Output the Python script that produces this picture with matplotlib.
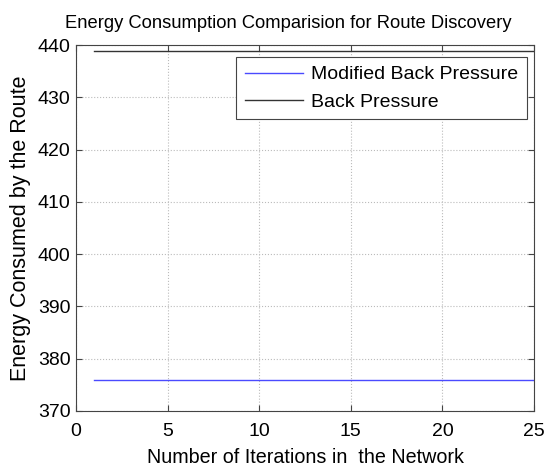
import numpy as np
import matplotlib
matplotlib.use("Agg")
import matplotlib.pyplot as plt

plt.rcParams['font.family'] = ['Liberation Sans', 'DejaVu Sans']

# Dane
iterations = list(range(1, 26))
modified_bp = [375.9] * 25
back_pressure = [438.9] * 25

fig = plt.figure(figsize=(5.46, 4.67), dpi=100)
# osie: lewo 76px, prawo 534px, góra 45px, dół 411px
ax = fig.add_axes([76 / 546, (467 - 411) / 467, 458 / 546, 366 / 467])

ax.plot(iterations, modified_bp, color='#4a4aff', linewidth=1.0, label='Modified Back Pressure')
ax.plot(iterations, back_pressure, color='#333333', linewidth=1.0, label='Back Pressure')

ax.set_xlim(0, 25)
ax.set_ylim(370, 440)
ax.set_xticks([0, 5, 10, 15, 20, 25])
ax.set_yticks(np.arange(370, 441, 10))
ax.grid(True, linestyle=':', color='#bbbbbb', linewidth=0.8)
ax.tick_params(direction='in', top=True, right=True, labelsize=14, length=4, color='#444444')
ax.tick_params(axis='x', pad=9)
ax.tick_params(axis='y', pad=4)
for s in ax.spines.values():
    s.set_color('#444444')

ax.set_title('Energy Consumption Comparision for Route Discovery', fontsize=13.2, pad=12, x=0.463)
ax.set_xlabel('Number of Iterations in  the Network', fontsize=14.2, labelpad=5.5)
ax.set_ylabel('Energy Consumed by the Route', fontsize=15.5, labelpad=5)

leg = ax.legend(loc='upper right', bbox_to_anchor=((527 - 76) / 458, (411 - 57) / 366),
                borderaxespad=0, fontsize=14, fancybox=False, edgecolor='#444444',
                framealpha=1, handlelength=3.0, handletextpad=0.4, labelspacing=0.5,
                borderpad=0.45)
leg.get_frame().set_linewidth(0.8)

plt.savefig('out.png', dpi=100)
